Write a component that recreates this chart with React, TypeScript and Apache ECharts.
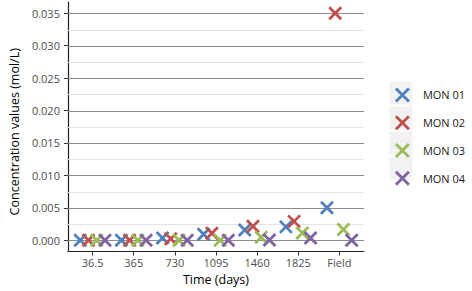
import React, { useEffect, useRef } from "react";
import * as echarts from "echarts";

const categories = ["36.5", "365", "730", "1095", "1460", "1825", "Field"];
const seriesNames = ["MON 01", "MON 02", "MON 03", "MON 04"];
const mon01 = [0, 0, 0.00035, 0.0009, 0.00155, 0.00205, 0.005];
const mon02 = [0, 0, 0.0002, 0.00105, 0.00215, 0.0029, 0.035];
const mon03 = [0, 0, 0, 0, 0.00045, 0.0011, 0.00165];
const mon04 = [0, 0, 0, 0, 0.00003, 0.00035, 0];
const yTicks = [0, 0.005, 0.01, 0.015, 0.02, 0.025, 0.03, 0.035];
const yMinor = [0.0025, 0.0075, 0.0125, 0.0175, 0.0225, 0.0275, 0.0325];

const colors = ["#4F81BD", "#C0504D", "#9BBB59", "#8064A2"];
const dodge = [-0.3, -0.1, 0.1, 0.3];
const FONT = "Open Sans";
const XPATH = "path://M0,0 L10,10 M10,0 L0,10";

export default function App() {
  const ref = useRef<HTMLDivElement>(null);
  useEffect(() => {
    if (!ref.current) return;
    const chart = echarts.init(ref.current, null, { renderer: "svg" });
    const all = [mon01, mon02, mon03, mon04];
    const scatter = all.map((vals, si) => ({
      name: seriesNames[si],
      type: "scatter",
      z: 3,
      symbol: XPATH,
      symbolSize: 12,
      itemStyle: {
        color: "rgba(0,0,0,0)",
        borderColor: colors[si],
        borderWidth: 2.8,
        opacity: 1,
      },
      data: vals.map((v, i) => [i + dodge[si], v]),
    }));
    const gridData = [
      ...yMinor.map((v) => [v, 0]),
      ...yTicks.map((v) => [v, 1]),
    ];
    const gridSeries = {
      name: "grid",
      type: "custom",
      z: 1,
      silent: true,
      clip: false,
      encode: { x: -1, y: 0 },
      data: gridData,
      renderItem: (params: any, api: any) => {
        const cs = params.coordSys;
        const y = Math.round(api.coord([0, api.value(0)])[1]) + 0.5;
        const major = api.value(1) === 1;
        return {
          type: "line",
          shape: { x1: cs.x, y1: y, x2: cs.x + cs.width, y2: y },
          style: { stroke: major ? "#8a8a8a" : "#e3e3e3", lineWidth: 1 },
        };
      },
    };
    const keyRects = seriesNames.map((_, i) => ({
      type: "rect",
      z: 0,
      shape: { x: 389.5, y: 81.5 + i * 25, width: 23, height: 23 },
      style: { fill: "#f2f2f2" },
    }));
    chart.setOption({
      animation: false,
      color: colors,
      textStyle: { fontFamily: FONT },
      grid: { left: 62, right: 108, top: 2, bottom: 39.5, containLabel: false },
      graphic: keyRects,
      legend: {
        data: seriesNames,
        orient: "vertical",
        left: 394.5,
        top: 87,
        itemWidth: 13,
        itemHeight: 13,
        itemGap: 12,
        padding: 0,
        icon: XPATH,
        itemStyle: { color: "rgba(0,0,0,0)", borderWidth: 2.8 },
        textStyle: { fontFamily: FONT, fontSize: 11, color: "#1a1a1a", lineHeight: 13, padding: [0, 0, 0, 9] },
      },
      xAxis: {
        type: "value",
        min: -0.6,
        max: 6.6,
        name: "Time (days)",
        nameLocation: "middle",
        nameGap: 21,
        nameTextStyle: { fontFamily: FONT, fontSize: 12.5, color: "#000" },
        axisLine: { show: true, onZero: false, lineStyle: { color: "#222", width: 1.2 } },
        axisTick: { show: true, length: 4, customValues: categories.map((_, i) => i), lineStyle: { color: "#333" } },
        axisLabel: {
          customValues: categories.map((_, i) => i),
          formatter: (v: number) => categories[Math.round(v)] ?? "",
          fontFamily: FONT,
          fontSize: 11,
          color: "#4d4d4d",
          margin: 5,
        },
        splitLine: { show: false },
      },
      yAxis: {
        type: "value",
        min: -0.00175,
        max: 0.03675,
        name: "Concentration values (mol/L)",
        nameLocation: "middle",
        nameGap: 44,
        nameTextStyle: { fontFamily: FONT, fontSize: 12.5, color: "#000", padding: [0, 10, 0, 0] },
        axisLine: { show: true, onZero: false, lineStyle: { color: "#222", width: 1.2 } },
        axisTick: { show: true, length: 4, customValues: yTicks, lineStyle: { color: "#333" } },
        axisLabel: {
          customValues: yTicks,
          formatter: (v: number) => v.toFixed(3),
          fontFamily: FONT,
          fontSize: 11,
          color: "#4d4d4d",
          margin: 8,
        },
        splitLine: { show: false },
      },
      series: [gridSeries, ...scatter],
    } as any);
    return () => chart.dispose();
  }, []);
  return <div ref={ref} style={{ position: "absolute", left: 0, top: 0, width: 472, height: 291 }} />;
}
